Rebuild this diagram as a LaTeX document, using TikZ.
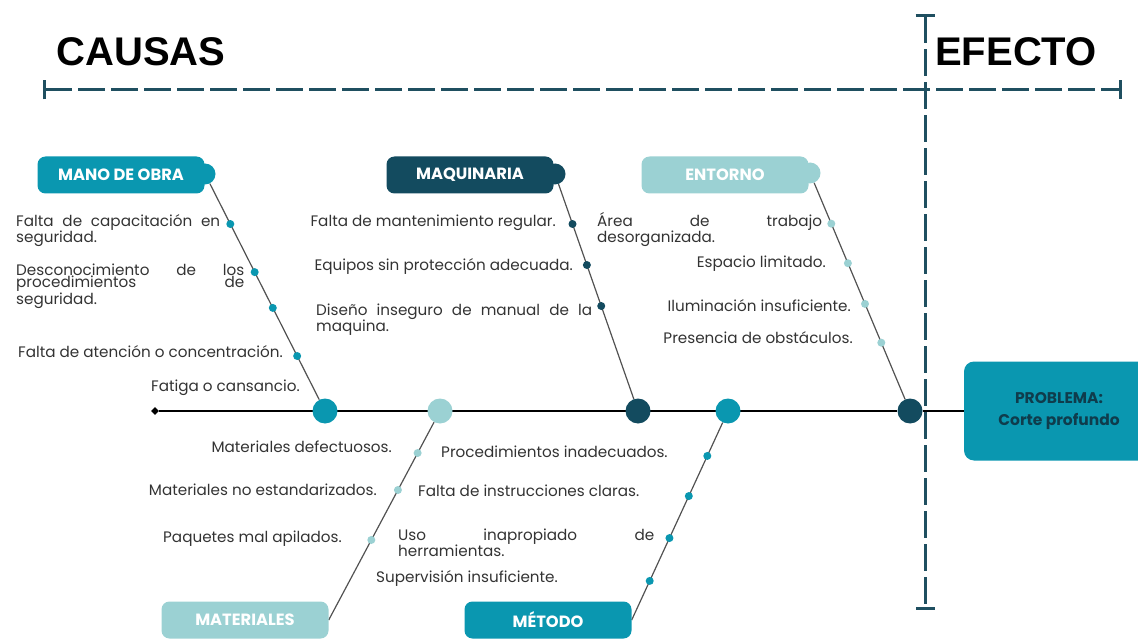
\documentclass[tikz,border=0pt]{standalone}
\usepackage{fontspec}
\setmainfont{Poppins}
\newfontfamily\headfont{Liberation Sans}
\usetikzlibrary{positioning, calc, arrows.meta, shapes.geometric, backgrounds}
\definecolor{ishteal}{HTML}{0A97B0}
\definecolor{ishdark}{HTML}{134B5F}
\definecolor{ishlight}{HTML}{9BD1D3}
\definecolor{ishdash}{HTML}{1F4F60}
\definecolor{ishtext}{HTML}{333333}

\begin{document}
\begin{tikzpicture}[x=1pt, y=-1pt,
    every node/.style={font=\fontsize{15.2}{13}\selectfont, text=ishtext, inner sep=0pt},
    cat/.style={rounded corners=8pt, minimum width=167pt, minimum height=37pt,
                text=white, font=\fontsize{16.3}{16}\selectfont\bfseries},
    bump/.style={circle, minimum size=21pt},
    hub/.style={circle, minimum size=25pt},
    dot/.style={circle, minimum size=8pt},
    bone/.style={draw=ishtext!85, line width=1.2pt},
    guide/.style={draw=ishdash, line width=3pt, dash pattern=on 27pt off 6pt,
                  {Bar[width=19pt]}-{Bar[width=19pt]}},
    title/.style={font=\headfont\bfseries\fontsize{40}{40}\selectfont, text=black},
    causej/.style={align=justify, anchor=base west},
    causer/.style={anchor=base east},
    causel/.style={anchor=base west},
  ]
  \useasboundingbox (0,0) rectangle (1138,639);

  % titles and guide lines
  \node[title] (causas) at (141,52) {CAUSAS};
  \node[title] (efecto) at (1016,52) {EFECTO};
  \coordinate (hl) at (43,90);
  \coordinate (hr) at (1122,90);
  \coordinate (vt) at (925,14);
  \coordinate (vb) at (925,610);
  \draw[guide] (hl) -- (hr);
  \draw[guide] (vt) -- (vb);

  % spine
  \node[diamond, fill=black, minimum size=8pt] (tail) at (155,411) {};
  \node[fill=ishteal, rounded corners=10pt, minimum width=190pt, minimum height=99pt,
        align=center, text=ishdark!80!black, font=\fontsize{15.5}{22}\selectfont\bfseries]
    (prob) at (1059,411) {PROBLEMA:\\Corte profundo};
  \node[hub, fill=ishteal]  (hmano) at (325,411) {};
  \node[hub, fill=ishlight] (hmat)  at (440,411) {};
  \node[hub, fill=ishdark]  (hmaq)  at (638,411) {};
  \node[hub, fill=ishteal]  (hmet)  at (728,411) {};
  \node[hub, fill=ishdark]  (hent)  at (910,411) {};

  % categories
  \node[bump, fill=ishteal]  (manob) at (205,174) {};
  \node[cat, fill=ishteal]   (mano)  at (121,175) {MANO DE OBRA};
  \node[bump, fill=ishdark]  (maqb)  at (555,174) {};
  \node[cat, fill=ishdark]   (maq)   at (470,175) {MAQUINARIA};
  \node[bump, fill=ishlight] (entb)  at (810,173) {};
  \node[cat, fill=ishlight]  (ent)   at (725,175) {ENTORNO};
  \node[cat, fill=ishlight]  (mat)   at (245,620) {MATERIALES};
  \node[cat, fill=ishteal]   (met)   at (548,620) {MÉTODO};

  % dots on the branches
  \node[dot, fill=ishteal] (m1) at ($(manob)!0.211!(hmano)$) {};
  \node[dot, fill=ishteal] (m2) at ($(manob)!0.414!(hmano)$) {};
  \node[dot, fill=ishteal] (m3) at ($(manob)!0.565!(hmano)$) {};
  \node[dot, fill=ishteal] (m4) at ($(manob)!0.768!(hmano)$) {};
  \node[dot, fill=ishdark] (q1) at ($(maqb)!0.211!(hmaq)$) {};
  \node[dot, fill=ishdark] (q2) at ($(maqb)!0.384!(hmaq)$) {};
  \node[dot, fill=ishdark] (q3) at ($(maqb)!0.557!(hmaq)$) {};
  \node[dot, fill=ishlight] (e1) at ($(entb)!0.213!(hent)$) {};
  \node[dot, fill=ishlight] (e2) at ($(entb)!0.379!(hent)$) {};
  \node[dot, fill=ishlight] (e3) at ($(entb)!0.550!(hent)$) {};
  \node[dot, fill=ishlight] (e4) at ($(entb)!0.713!(hent)$) {};
  \node[dot, fill=ishlight] (a1) at ($(mat.east)!0.799!(hmat)$) {};
  \node[dot, fill=ishlight] (a2) at ($(mat.east)!0.622!(hmat)$) {};
  \node[dot, fill=ishlight] (a3) at ($(mat.east)!0.383!(hmat)$) {};
  \node[dot, fill=ishteal] (d1) at ($(met.east)!0.785!(hmet)$) {};
  \node[dot, fill=ishteal] (d2) at ($(met.east)!0.593!(hmet)$) {};
  \node[dot, fill=ishteal] (d3) at ($(met.east)!0.392!(hmet)$) {};
  \node[dot, fill=ishteal] (d4) at ($(met.east)!0.187!(hmet)$) {};

  % causes
  \node[causej, text width=204pt] (tm1) at (16,226) {Falta de capacitación en\linebreak seguridad.};
  \node[causej, text width=228pt] (tm2) at (16,275) {Desconocimiento de los\linebreak procedimientos de\linebreak seguridad.};
  \node[causer] (tm3) at (283,357) {Falta de atención o concentración.};
  \node[causer] (tm4) at (300,391) {Fatiga o cansancio.};
  \node[causer] (tq1) at (556,226) {Falta de mantenimiento regular.};
  \node[causer] (tq2) at (573,270) {Equipos sin protección adecuada.};
  \node[causej, text width=276pt] (tq3) at (316,315) {Diseño inseguro de manual de la\linebreak maquina.};
  \node[causej, text width=225pt] (te1) at (597,226) {Área de trabajo\linebreak desorganizada.};
  \node[causer] (te2) at (826,268) {Espacio limitado.};
  \node[causer] (te3) at (851,311) {Iluminación insuficiente.};
  \node[causer] (te4) at (853,343) {Presencia de obstáculos.};
  \node[causer] (ta1) at (392,452) {Materiales defectuosos.};
  \node[causer] (ta2) at (377,495) {Materiales no estandarizados.};
  \node[causer] (ta3) at (342,542) {Paquetes mal apilados.};
  \node[causel] (td1) at (441,457) {Procedimientos inadecuados.};
  \node[causel] (td2) at (418,496) {Falta de instrucciones claras.};
  \node[causej, text width=256pt] (td3) at (398,540) {Uso inapropiado de\linebreak herramientas.};
  \node[causel] (td4) at (376,582) {Supervisión insuficiente.};

  \begin{scope}[on background layer]
    \draw[black, line width=2pt] (tail) -- (hent);
    \draw[black, line width=1.2pt] (hent) -- (prob);
    \draw[bone] (manob) -- (hmano);
    \draw[bone] (maqb) -- (hmaq);
    \draw[bone] (entb) -- (hent);
    \draw[bone] (mat.east) -- (hmat);
    \draw[bone] (met.east) -- (hmet);
  \end{scope}
\end{tikzpicture}
\end{document}
